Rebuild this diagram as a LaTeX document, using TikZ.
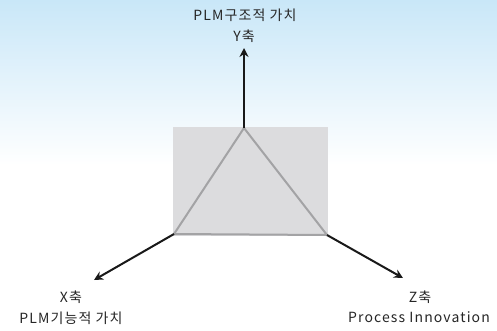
\documentclass[tikz,border=0pt]{standalone}
\usepackage{fontspec}
\newfontfamily\kr[LetterSpace=8]{Noto Sans CJK KR}
\usetikzlibrary{arrows.meta}
\definecolor{skytop}{HTML}{C9E7F8}
\definecolor{boxfill}{HTML}{DCDCDE}
\definecolor{triline}{HTML}{A3A3A5}
\tikzset{
  axis/.style={line width=2pt, draw=black!90, -{Stealth[length=9pt,width=9pt]}},
  lbl/.style={font=\kr\fontsize{14}{16}\selectfont, text=black!85, inner sep=0pt, anchor=center}
}
\begin{document}
\begin{tikzpicture}[x=1pt,y=-1pt]
\useasboundingbox (0,0) rectangle (497,330);
\fill[white] (0,0) rectangle (497,330);
\shade[top color=skytop, bottom color=white] (0,0) rectangle (497,165);
% box
\fill[boxfill] (173,127) rectangle (328,236);
\coordinate (A) at (244,128);
\coordinate (L) at (174,234);
\coordinate (R) at (327,235);
\draw[triline, line width=2pt, line join=miter] (A) -- (L) -- (R) -- cycle;
% axes
\coordinate (YT) at (244,48);
\coordinate (XT) at (94,280);
\coordinate (ZT) at (403,278);
\draw[axis] (A) -- (YT);
\draw[axis] (L) -- (XT);
\draw[axis] (R) -- (ZT);
% labels
\node[lbl] (y1) at (245,15) {PLM구조적 가치};
\node[lbl] (y2) at (244,36) {Y축};
\node[lbl] (x1) at (71,297) {X축};
\node[lbl] (x2) at (71,318) {PLM기능적 가치};
\node[lbl] (z1) at (420,297) {Z축};
\node[lbl] (z2) at (419,317) {Process Innovation};
\end{tikzpicture}
\end{document}
